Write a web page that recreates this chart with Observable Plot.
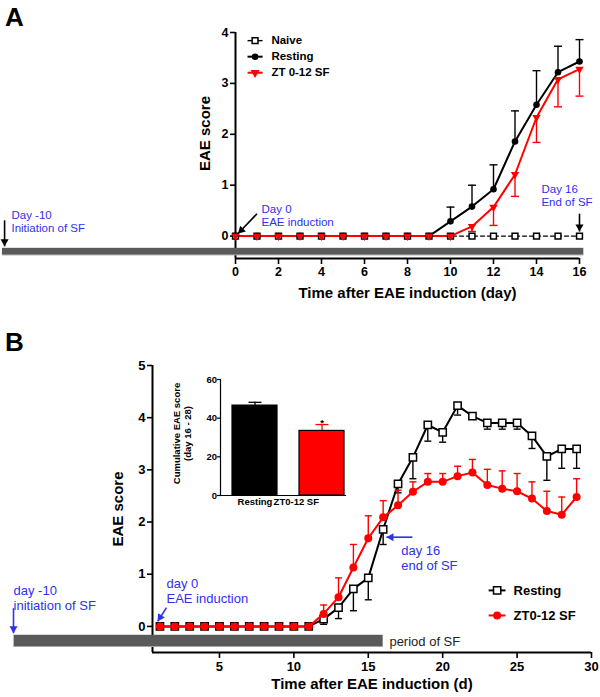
<!DOCTYPE html>
<html><head><meta charset="utf-8">
<script src="https://cdn.jsdelivr.net/npm/d3@7"></script>
<script src="https://cdn.jsdelivr.net/npm/@observablehq/plot@0.6"></script>
<style>
body{margin:0;background:#fff;}
#wrap{position:relative;width:600px;height:697px;overflow:hidden;}
.panel{position:absolute;left:0;}
.letter{position:absolute;left:5px;font:bold 26px "Liberation Sans",Arial,sans-serif;line-height:1;}
</style></head><body>
<div id="wrap">
  <div class="letter" style="top:4px">A</div>
  <div class="letter" style="top:329px">B</div>
</div>
<script>
// ---------- Panel A data ----------
const daysA = [0,1,2,3,4,5,6,7,8,9,10,11,12,13,14,15,16];
const naiveA = [0,0,0,0,0,0,0,0,0,0,0,0,0,0,0,0,0];
const restingA = [0,0,0,0,0,0,0,0,0,0,0.29,0.58,0.92,1.86,2.58,3.22,3.43];
const restingErrA = [0,0,0,0,0,0,0,0,0,0,0.28,0.42,0.48,0.60,0.67,0.51,0.43];
const sfA = [0,0,0,0,0,0,0,0,0,0,0,0.19,0.57,1.21,2.33,3.08,3.28];
const sfErrA = [0,0,0,0,0,0,0,0,0,0,0,0.10,0.36,0.43,0.49,0.54,0.53];
const seriesA = ["Naive","Resting","ZT 0-12 SF"];
const xTicksA = [0,2,4,6,8,10,12,14,16];
const yTicksA = [0,1,2,3,4];

// ---------- Panel B data ----------
const daysB = [1,2,3,4,5,6,7,8,9,10,11,12,13,14,15,16,17,18,19,20,21,22,23,24,25,26,27,28,29];
const restingB = [0,0,0,0,0,0,0,0,0,0,0,0.14,0.36,0.72,0.93,1.86,2.73,3.24,3.86,3.72,4.23,4.03,3.90,3.90,3.90,3.65,3.26,3.40,3.40];
const restingErrB = [0,0,0,0,0,0,0,0,0,0,0,0.10,0.21,0.42,0.42,0.29,0.17,0.41,0.31,0.19,0.18,0.05,0.12,0.12,0.12,0.24,0.46,0.37,0.37];
const sfB = [0,0,0,0,0,0,0,0,0,0,0,0.24,0.56,1.13,1.69,2.09,2.32,2.58,2.77,2.77,2.88,2.95,2.71,2.64,2.59,2.45,2.21,2.14,2.48];
const sfErrB = [0,0,0,0,0,0,0,0,0,0,0,0.17,0.37,0.44,0.43,0.32,0.29,0.19,0.16,0.16,0.19,0.25,0.30,0.34,0.34,0.32,0.38,0.34,0.35];
const seriesB = ["Resting","ZT0-12 SF"];
const xTicksB = [5,10,15,20,25,30];
const yTicksB = [0,1,2,3,4,5];

// ---------- Inset data ----------
const groups = ["Resting","ZT0-12 SF"];
const cumMean = [46.5, 33.4];
const cumErr = [1.7, 3.3];
const yTicksInset = [0,20,40,60];

// ---------- helpers ----------
const FONT = '"Liberation Sans", Arial, Helvetica, sans-serif';
const BLUE = "#3030f0";
const RED = "#ff0000";
const fmt = d => String(d);
const cap = {draw(ctx, size){const w = Math.sqrt(size/Math.PI); ctx.moveTo(-w,0); ctx.lineTo(w,0);}};

function errBars(rows, key, errKey, dir, color, capR){
  const f = rows.filter(d => d[errKey] > 0);
  return [
    Plot.ruleX(f, {x:"day", y1:key, y2:d => d[key] + dir*d[errKey], stroke:color, strokeWidth:1.4}),
    Plot.dot(f, {x:"day", y:d => d[key] + dir*d[errKey], symbol:cap, r:capR, stroke:color, strokeWidth:1.4, fill:"none"})
  ];
}
function arrow(x1,y1,x2,y2,color,rot,dx,dy){
  return [
    Plot.link([0], {x1, y1, x2, y2, stroke:color, strokeWidth:1.6}),
    Plot.dot([0], {x:x2, y:y2, symbol:"triangle", r:3, rotate:rot, fill:color, stroke:"none", dx, dy})
  ];
}
function note(text, x, y, color, size, anchor="start"){
  return Plot.text([text], {x, y, text:d=>d, fill:color, fontSize:size, fontWeight:"normal", textAnchor:anchor, lineHeight:1.13});
}
const wrap = document.getElementById("wrap");
function place(el, top, left=0){
  const d = document.createElement("div");
  d.className = "panel"; d.style.top = top+"px"; d.style.left = left+"px";
  d.appendChild(el); wrap.appendChild(d);
}

// ---------- Panel A ----------
const rowsA = daysA.map((d,i) => ({day:d, naive:naiveA[i], resting:restingA[i], rErr:restingErrA[i], sf:sfA[i], sErr:sfErrA[i]}));
const legA = seriesA.map((name,i) => ({name, i}));
const legY = d => 3.84 - d.i*0.315;

const plotA = Plot.plot({
  width:600, height:310, marginLeft:235, marginRight:21, marginTop:32, marginBottom:52,
  x:{domain:[0,16]}, y:{domain:[-0.44,4]},
  style:{fontFamily:FONT, fontWeight:"bold", color:"#000", background:"transparent", overflow:"visible"},
  marks:[
    Plot.ruleX([0], {y1:-0.44, y2:4, stroke:"#000", strokeWidth:2}),
    Plot.ruleY([-0.44], {x1:0, x2:16, stroke:"#000", strokeWidth:2}),
    Plot.axisY({ticks:yTicksA, tickFormat:fmt, tickSize:5, tickPadding:2, label:null, fontSize:12.5, strokeWidth:1.6}),
    Plot.axisX({ticks:xTicksA, tickFormat:fmt, tickSize:6, tickPadding:3, label:null, fontSize:12.5, strokeWidth:1.6}),
    Plot.rect([0], {x1:-10.84, x2:16.2, y1:-0.24, y2:-0.38, fill:"#5a5a5a"}),
    Plot.ruleY([-0.37], {x1:-10.84, x2:16.2, stroke:"#a8a8a8", strokeWidth:1}),
    Plot.text(["Time after EAE induction (day)"], {frameAnchor:"bottom", dy:39, fontSize:15}),
    Plot.text(["EAE score"], {frameAnchor:"left", textAnchor:"middle", rotate:-90, dx:-30, dy:-12, fontSize:15}),
    // lines
    Plot.line(rowsA, {x:"day", y:"naive", stroke:"#000", strokeWidth:1.4, strokeDasharray:"4,3"}),
    Plot.line(rowsA, {x:"day", y:"resting", stroke:"#000", strokeWidth:2}),
    ...errBars(rowsA, "resting", "rErr", 1, "#000", 4),
    Plot.line(rowsA, {x:"day", y:"sf", stroke:RED, strokeWidth:2}),
    ...errBars(rowsA, "sf", "sErr", -1, RED, 4),
    Plot.dot(rowsA, {x:"day", y:"resting", r:3.3, fill:"#000", stroke:"none"}),
    Plot.dot(rowsA, {x:"day", y:"naive", symbol:"square", r:3.3, fill:"#fff", stroke:"#000", strokeWidth:1.5}),
    Plot.dot(rowsA, {x:"day", y:"sf", symbol:"triangle", rotate:180, r:3.1, fill:RED, stroke:"none"}),
    // legend
    Plot.link(legA, {x1:0.56, x2:1.26, y1:legY, y2:legY, stroke:d => d.i===2 ? RED : "#000", strokeWidth:d => d.i===0 ? 1.4 : 2, strokeDasharray:d => d.i===0 ? "3,2" : null}),
    Plot.dot(legA.filter(d=>d.i===0), {x:0.91, y:legY, symbol:"square", r:3.3, fill:"#fff", stroke:"#000", strokeWidth:1.5}),
    Plot.dot(legA.filter(d=>d.i===1), {x:0.91, y:legY, r:3.3, fill:"#000"}),
    Plot.dot(legA.filter(d=>d.i===2), {x:0.91, y:legY, symbol:"triangle", rotate:180, r:3.4, fill:RED}),
    Plot.text(legA, {x:1.67, y:legY, text:"name", textAnchor:"start", fontSize:11.5}),
    // annotations
    note("Day 0\nEAE induction", 1.21, 0.41, BLUE, 11.5),
    note("Day 16\nEnd of SF", 14.23, 0.81, BLUE, 11.5),
    note("Day -10\nInitiation of SF", -10.42, 0.29, BLUE, 11.5),
    ...arrow(1.0, 0.44, 0.12, 0.05, "#000", 225, 3.3, -3.3),
    ...arrow(16, 0.44, 16, 0.09, "#000", 180, 0, -4.66),
    ...arrow(-10.74, 0.31, -10.74, -0.2, "#000", 180, 0, -4.66)
  ]
});
place(plotA, 0);

// ---------- Panel B ----------
const rowsB = daysB.map((d,i) => ({day:d, resting:restingB[i], rErr:restingErrB[i], sf:sfB[i], sErr:sfErrB[i]}));
const legB = seriesB.map((name,i) => ({name, i}));
const legYB = d => 0.69 - d.i*0.48;

const plotB = Plot.plot({
  width:600, height:387, marginLeft:152, marginRight:9, marginTop:55, marginBottom:45,
  x:{domain:[0.5,30]}, y:{domain:[-0.5,5]},
  style:{fontFamily:FONT, fontWeight:"bold", color:"#000", background:"transparent", overflow:"visible"},
  marks:[
    Plot.ruleX([0.5], {y1:-0.5, y2:5, stroke:"#000", strokeWidth:2}),
    Plot.ruleY([-0.5], {x1:0.5, x2:30, stroke:"#000", strokeWidth:2}),
    Plot.axisY({ticks:yTicksB, tickFormat:fmt, tickSize:5, tickPadding:2, label:null, fontSize:13, strokeWidth:1.6}),
    Plot.axisX({ticks:xTicksB, tickFormat:fmt, tickSize:6, tickPadding:3, label:null, fontSize:13, strokeWidth:1.6}),
    Plot.rect([0], {x1:-8.8, x2:16, y1:-0.17, y2:-0.40, fill:"#5a5a5a"}),
    Plot.ruleY([-0.385], {x1:-8.8, x2:16, stroke:"#a8a8a8", strokeWidth:1}),
    Plot.text(["Time after EAE induction (d)"], {frameAnchor:"bottom", dy:36, fontSize:15}),
    Plot.text(["EAE score"], {frameAnchor:"left", textAnchor:"middle", rotate:-90, dx:-34, dy:0, fontSize:15}),
    note("period of SF", 16.42, -0.29, "#222", 13),
    // series
    Plot.line(rowsB, {x:"day", y:"resting", stroke:"#000", strokeWidth:2}),
    ...errBars(rowsB, "resting", "rErr", -1, "#000", 3.5),
    Plot.dot(rowsB, {x:"day", y:"resting", symbol:"square", r:4.1, fill:"#fff", stroke:"#000", strokeWidth:1.5}),
    Plot.line(rowsB, {x:"day", y:"sf", stroke:RED, strokeWidth:2}),
    ...errBars(rowsB, "sf", "sErr", 1, RED, 3.5),
    Plot.dot(rowsB, {x:"day", y:"sf", r:4, fill:RED, stroke:"none"}),
    // legend
    Plot.link(legB, {x1:23.09, x2:24.22, y1:legYB, y2:legYB, stroke:d => d.i===1 ? RED : "#000", strokeWidth:2}),
    Plot.dot(legB.filter(d=>d.i===0), {x:23.66, y:legYB, symbol:"square", r:4.1, fill:"#fff", stroke:"#000", strokeWidth:1.5}),
    Plot.dot(legB.filter(d=>d.i===1), {x:23.66, y:legYB, r:4, fill:RED}),
    Plot.text(legB, {x:24.76, y:legYB, text:"name", textAnchor:"start", fontSize:13}),
    // annotations
    note("day -10\ninitiation of SF", -8.84, 0.55, BLUE, 13),
    note("day 0\nEAE induction", 1.44, 0.68, BLUE, 13),
    note("day 16\nend of SF", 17.21, 1.31, BLUE, 13),
    ...arrow(-8.84, 0.35, -8.84, -0.13, BLUE, 180, 0, -4.66),
    ...arrow(1.44, 0.36, 0.85, 0.10, BLUE, 213, 2.5, -3.9),
    ...arrow(17.97, 1.71, 16.22, 1.71, BLUE, 270, 4.66, 0)
  ]
});
place(plotB, 310);

// ---------- Inset ----------
const rowsInset = groups.map((g,i) => ({group:g, mean:cumMean[i], err:cumErr[i]}));
const inset = Plot.plot({
  width:190, height:150, marginLeft:60, marginRight:5, marginTop:14, marginBottom:20,
  x:{type:"band", domain:groups, paddingInner:0.33, paddingOuter:0.094, align:0.93, axis:null},
  y:{domain:[0,60]},
  color:{domain:groups, range:["#000", RED]},
  style:{fontFamily:FONT, fontWeight:"bold", color:"#000", background:"transparent", overflow:"visible"},
  marks:[
    Plot.frame({anchor:"left", stroke:"#000", strokeWidth:1.2}),
    Plot.frame({anchor:"bottom", stroke:"#000", strokeWidth:1.2}),
    Plot.axisY({ticks:yTicksInset, tickFormat:fmt, tickSize:3, tickPadding:0.5, label:null, fontSize:9.5, strokeWidth:1.2}),
    Plot.ruleX(rowsInset, {x:"group", y1:"mean", y2:d => d.mean + d.err, stroke:d => d.group, strokeWidth:1.3}),
    Plot.dot(rowsInset, {x:"group", y:d => d.mean + d.err, symbol:cap, r:6.5, stroke:d => d.group, strokeWidth:1.3, fill:"none"}),
    Plot.barY(rowsInset, {x:"group", y:"mean", fill:"group", stroke:"#000", strokeWidth:1.2}),
    Plot.text(rowsInset.filter(d => d.group === groups[1]), {x:"group", y:d => d.mean + d.err, text:() => "*", fontSize:9.5, lineAnchor:"bottom", dy:1}),
    Plot.text([groups[0]], {x:d => d, frameAnchor:"bottom", text:d => d, dy:9, fontSize:9.5}),
    Plot.text([groups[1]], {x:d => d, frameAnchor:"bottom", text:d => d, dy:9, dx:-3, textAnchor:"end", fontSize:9.5}),
    Plot.text(["Cumulative EAE score\n(day 16 - 28)"], {frameAnchor:"left", textAnchor:"middle", rotate:-90, dx:-38.5, dy:-4, fontSize:9.5, lineHeight:1.15})
  ]
});
place(inset, 365, 160);
</script>
</body></html>
